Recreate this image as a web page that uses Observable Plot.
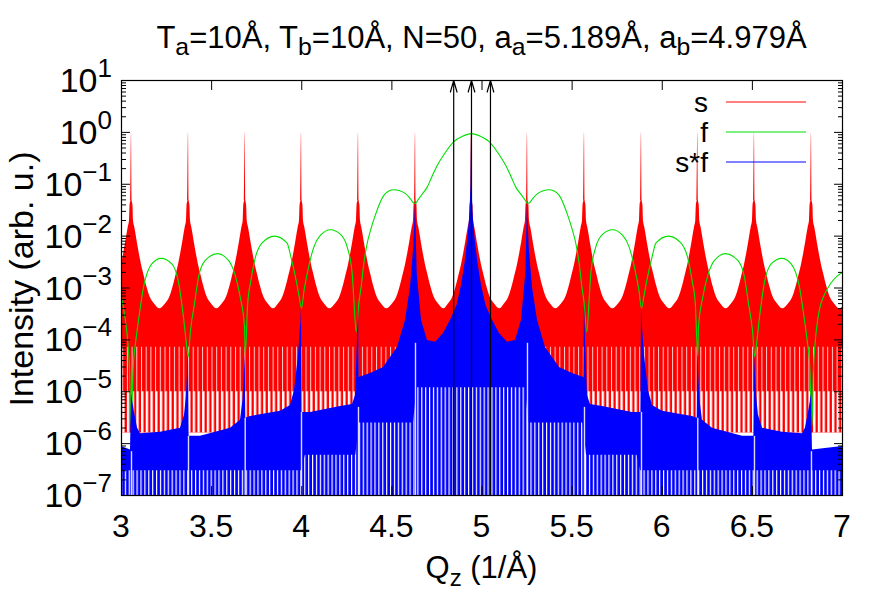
<!DOCTYPE html>
<html><head><meta charset="utf-8">
<script src="https://cdn.jsdelivr.net/npm/d3@7"></script>
<script src="https://cdn.jsdelivr.net/npm/@observablehq/plot@0.6"></script>
<style>
body{margin:0;background:#fff;}
#wrap{position:relative;width:875px;height:598px;overflow:hidden;font-family:"Liberation Sans",Arial,sans-serif;}
#title{position:absolute;left:0;width:963px;top:22px;text-align:center;font-size:31px;line-height:1;color:#000;white-space:nowrap;}
#title sub{font-size:0.8em;vertical-align:-0.3em;line-height:0;}
</style></head><body><div id="wrap"><div id="title"></div></div>
<script>
// ---------- texts ----------
const titleParts = [["T","a","=10Å, "],["T","b","=10Å, N=50, "],["a","a","=5.189Å, "],["a","b","=4.979Å"]];
const xLabelMain = "Q", xLabelSub = "z", xLabelRest = " (1/Å)";
const yLabel = "Intensity (arb. u.)";
const seriesNames = ["s", "f", "s*f"];
const seriesColors = ["#ff0000", "#00e000", "#0000ff"];

// ---------- ticks ----------
const xTicks = [3, 3.5, 4, 4.5, 5, 5.5, 6, 6.5, 7];
const yTickExponents = [-7, -6, -5, -4, -3, -2, -1, 0, 1];
const yMinorMultipliers = [2, 3, 4, 5, 6, 7, 8, 9];

// ---------- arrows (Bragg positions) ----------
const arrowQ = [4.843, 4.9417, 5.047];

// ---------- s : superlattice peak positions and envelope profile around each peak ----------
const spikeQ = [3.0555, 3.3717, 3.6863, 3.9986, 4.3148, 4.6311, 4.9417, 5.2523, 5.5686, 5.8848, 6.1971, 6.5117, 6.8279, 7.142];
const redProfileOffset = [0, 0.0033, 0.008, 0.011, 0.018, 0.024, 0.033, 0.043, 0.055, 0.067, 0.085, 0.104, 0.13, 0.157];
const redProfileValue  = [1.0, 0.049, 0.039, 0.020, 0.01475, 0.0113, 7.25e-3, 4.65e-3, 2.85e-3, 1.91e-3, 1.07e-3, 6.6e-4, 4.83e-4, 3.96e-4];
const redSolidFloor = 7.2e-5;   // lower edge of the dense red band
const redMidFloor = 1.0e-5;     // fringes thin out below this
const redFringeFloor = 1.6e-6;  // lowest visible red fringes

// ---------- f ----------
const fQ = [3.000,3.020,3.035,3.045,3.053,3.065,3.080,3.0943,3.1221,3.1681,3.2203,3.2791,3.3162,3.3440,3.3623,3.3700,3.3828,3.405,3.4272,3.4644,3.5326,3.5936,3.6308,3.6585,3.6824,3.6863,3.700,3.718,3.742,3.780,3.849,3.918,3.941,3.969,3.985,3.9986,4.0125,4.0302,4.0669,4.104,4.1595,4.215,4.2522,4.2799,4.2892,4.302,4.3165,4.330,4.3442,4.3627,4.3814,4.4091,4.4552,4.4829,4.5107,4.5432,4.5756,4.6033,4.6216,4.6311,4.645,4.670,4.696,4.720,4.7515,4.790,4.8436,4.8918,4.9417,
4.9916,5.0398,5.0934,5.1319,5.1634,5.1874,5.2134,5.2384,5.2523,5.2618,5.2801,5.3078,5.3402,5.3727,5.4005,5.4282,5.4743,5.5020,5.5207,5.5392,5.5534,5.5669,5.5814,5.5942,5.6035,5.6312,5.6684,5.7239,5.7794,5.8165,5.8532,5.8709,5.8848,5.8984,5.9144,5.9424,5.9654,6.0344,6.1034,6.1414,6.1654,6.1834,6.1971,6.2010,6.2249,6.2526,6.2898,6.3508,6.4190,6.4562,6.4784,6.5006,6.5134,6.5211,6.5394,6.5672,6.6043,6.6631,6.7153,6.7613,6.7891,6.8034,6.8184,6.8304,6.8384,6.8484,6.8634,6.880,6.896,6.933,6.970,7.000];
const fV = [6.6e-4,2.6e-4,9e-5,2.5e-5,2.2e-6,3e-5,1e-4,2.38e-4,1.04e-3,2.93e-3,3.73e-3,2.93e-3,1.30e-3,2.7e-4,7.3e-5,4.7e-5,1.52e-4,5.0e-4,1.62e-3,3.41e-3,4.59e-3,3.41e-3,1.75e-3,6.7e-4,1.77e-4,5.0e-5,5e-4,1.4e-3,3.8e-3,7.4e-3,1.0e-2,7.4e-3,3.8e-3,1.4e-3,7e-4,4.1e-4,8.9e-4,1.89e-3,6.15e-3,1.04e-2,1.33e-2,1.08e-2,6.15e-3,1.89e-3,5.8e-4,1.42e-4,5.0e-4,1.1e-3,2.93e-3,7.2e-3,1.29e-2,2.6e-2,6.1e-2,7.4e-2,7.85e-2,7.5e-2,6.6e-2,5.2e-2,4.35e-2,4.28e-2,5.0e-2,6.6e-2,8.8e-2,0.135,0.231,0.38,0.665,0.84,0.944,
0.84,0.665,0.38,0.231,0.135,8.8e-2,6.6e-2,5.0e-2,4.28e-2,4.35e-2,5.2e-2,6.6e-2,7.5e-2,7.85e-2,7.4e-2,6.1e-2,2.6e-2,1.29e-2,7.2e-3,2.93e-3,1.1e-3,5.0e-4,1.42e-4,5.8e-4,1.89e-3,6.15e-3,1.08e-2,1.33e-2,1.04e-2,6.15e-3,1.89e-3,8.9e-4,4.1e-4,7e-4,1.4e-3,3.8e-3,7.4e-3,1.0e-2,7.4e-3,3.8e-3,1.4e-3,5e-4,5.0e-5,1.77e-4,6.7e-4,1.75e-3,3.41e-3,4.59e-3,3.41e-3,1.62e-3,5.0e-4,1.52e-4,4.7e-5,7.3e-5,2.7e-4,1.30e-3,2.93e-3,3.73e-3,2.93e-3,1.04e-3,2.38e-4,1e-4,3e-5,2.2e-6,2.5e-5,9e-5,2.6e-4,5e-4,7e-4,1.21e-3,1.7e-3,2.0e-3];

// ---------- s*f : upper envelope ----------
const sfQ = [3.000,3.050,3.0555,3.0620,3.0721,3.0888,3.1054,3.2164,3.3273,3.3495,3.3606,3.3689,3.3717,3.3750,3.4383,3.6047,3.6602,3.6741,3.6824,3.6863,3.6896,3.7157,3.8821,3.9376,3.9598,3.9820,3.9958,3.9986,4.0019,4.0485,4.2149,4.2815,4.2982,4.3093,4.3148,4.3182,4.3814,4.4536,4.5312,4.5756,4.6033,4.6216,4.6311,4.6405,4.6644,4.6976,4.7420,4.7864,4.8308,4.8613,4.8863,4.9057,4.9223,4.9334,4.9390,4.9417,
4.9444,4.9500,4.9611,4.9777,4.9971,5.0221,5.0526,5.0970,5.1414,5.1858,5.2190,5.2429,5.2523,5.2618,5.2801,5.3078,5.3522,5.4298,5.5020,5.5652,5.5686,5.5741,5.5852,5.6019,5.6685,5.8349,5.8815,5.8848,5.8876,5.9014,5.9236,5.9458,6.0013,6.1677,6.1938,6.1971,6.2010,6.2093,6.2232,6.2787,6.4451,6.5084,6.5117,6.5145,6.5228,6.5339,6.5561,6.6670,6.7780,6.7946,6.8113,6.8214,6.8279,6.8334,7.000];
const sfV = [8.85e-7,7.5e-7,9.3e-6,6.5e-6,4.0e-6,2.0e-6,1.55e-6,1.65e-6,1.97e-6,3.51e-6,8.51e-6,3.22e-5,5.02e-5,1.38e-6,1.38e-6,1.97e-6,2.81e-6,6.82e-6,2.58e-5,5.02e-5,3.07e-6,3.35e-6,4.19e-6,5.46e-6,1.06e-5,5.02e-5,2.38e-4,4.05e-4,4.0e-6,4.0e-6,5.22e-6,5.71e-6,8.51e-6,9.77e-5,5e-4,1.89e-5,2.26e-5,2.95e-5,7.16e-5,2.38e-4,1.03e-3,6.07e-3,4.28e-2,1.91e-3,2.38e-4,9.77e-5,8.95e-5,1.33e-4,2.6e-4,4.6e-4,1.13e-3,2.98e-3,9.1e-3,2.86e-2,9.51e-2,0.957,
9.51e-2,2.86e-2,9.1e-3,2.98e-3,1.13e-3,4.6e-4,2.6e-4,1.33e-4,8.95e-5,9.77e-5,2.38e-4,1.91e-3,4.28e-2,6.07e-3,1.03e-3,2.38e-4,7.16e-5,2.95e-5,2.26e-5,1.89e-5,5e-4,9.77e-5,8.51e-6,5.71e-6,5.22e-6,4.0e-6,4.0e-6,4.05e-4,2.38e-4,5.02e-5,1.06e-5,5.46e-6,4.19e-6,3.35e-6,3.07e-6,5.02e-5,2.58e-5,6.82e-6,2.81e-6,1.97e-6,1.38e-6,1.38e-6,5.02e-5,3.22e-5,8.51e-6,3.51e-6,1.97e-6,1.65e-6,1.55e-6,2.0e-6,4.0e-6,6.5e-6,9.3e-6,7.5e-7,8.85e-7];
// lower edge of the dense part of s*f (below it the fringes separate)
const sfSolidQ = [3.0,4.0,4.02,4.30,4.32,4.62,4.64,4.94,5.24,5.26,5.56,5.58,5.86,5.88,7.0];
const sfSolidV = [3e-7,3e-7,6e-7,6e-7,2.5e-6,2.5e-6,1.2e-5,1.2e-5,1.2e-5,2.5e-6,2.5e-6,6e-7,6e-7,3e-7,3e-7];
// gaps of s*f exactly at the satellite peaks
const gapQ = [3.0555,3.3717,3.6863,3.9986,4.3148,4.6311,5.2523,5.5686,5.8848,6.1971,6.5117,6.8279];
const gapTop = [7e-7,1.38e-6,3.07e-6,4.0e-6,5e-6,8.6e-5,8.6e-5,5e-6,4.0e-6,3.07e-6,1.38e-6,7e-7];

// ---------- build tables ----------
const sEnv = [];
const lastOff = redProfileOffset.length - 1;
spikeQ.forEach(q0 => redProfileOffset.forEach((d, i) => {
  if (i < lastOff) sEnv.push({q: q0 - d, v: redProfileValue[i]});
  if (d > 0) sEnv.push({q: q0 + d, v: redProfileValue[i]});
}));
sEnv.sort((a, b) => a.q - b.q);
const fData = fQ.map((q, i) => ({q, v: fV[i]}));
const sfData = sfQ.map((q, i) => ({q, v: sfV[i]}));
const sfSolid = sfSolidQ.map((q, i) => ({q, v: sfSolidV[i]}));
const gaps = gapQ.map((q, i) => ({q, top: gapTop[i]}));
const yMajor = yTickExponents.map(e => Math.pow(10, e));
const yMinor = yTickExponents.slice(0, -1).flatMap(e => yMinorMultipliers.map(m => m * Math.pow(10, e)));
const yBottom = yMajor[0], yTop = yMajor[yMajor.length - 1];

const font = "Liberation Sans, Arial, sans-serif";
const plot = Plot.plot({
  width: 875, height: 598,
  marginLeft: 121, marginRight: 33, marginTop: 80, marginBottom: 103,
  x: {domain: [xTicks[0], xTicks[xTicks.length - 1]], label: null},
  y: {type: "log", domain: [yBottom, yTop], label: null},
  style: {background: "white", fontFamily: font},
  marks: [
    Plot.areaY(sEnv, {x: "q", y1: () => redFringeFloor, y2: "v", fill: seriesColors[0], curve: "monotone-x", clip: true}),
    Plot.areaY(sEnv, {x: "q", y1: () => redMidFloor, y2: () => redSolidFloor, fill: "url(#stripeThin)", clip: true}),
    Plot.areaY(sEnv, {x: "q", y1: () => redFringeFloor, y2: () => redMidFloor, fill: "url(#stripeWide)", clip: true}),
    Plot.line(fData, {x: "q", y: "v", stroke: seriesColors[1], strokeWidth: 1.1, curve: "monotone-x", clip: true}),
    Plot.areaY(sfData, {x: "q", y1: () => yBottom, y2: "v", fill: seriesColors[2], clip: true}),
    Plot.areaY(sfSolid, {x: "q", y1: () => yBottom, y2: "v", fill: "url(#stripeBlue)", clip: true}),
    Plot.ruleX(gaps, {x: "q", y1: () => yBottom, y2: "top", stroke: "white", strokeWidth: 1.4, strokeOpacity: 0.85}),
    Plot.arrow(arrowQ, {x1: d => d, x2: d => d, y1: () => yBottom, y2: () => yTop, stroke: "black", strokeWidth: 1.2, headLength: 15, headAngle: 32}),
    Plot.frame({stroke: "black", strokeWidth: 1.2}),
    Plot.axisY(yMajor, {anchor: "left", tickSize: 9, insetLeft: 9, tickFormat: () => "", label: null}),
    Plot.axisY(yMajor, {anchor: "right", tickSize: 9, insetRight: 9, tickFormat: () => "", label: null}),
    Plot.axisY(yMinor, {anchor: "left", tickSize: 5, insetLeft: 5, tickFormat: () => "", label: null}),
    Plot.axisY(yMinor, {anchor: "right", tickSize: 5, insetRight: 5, tickFormat: () => "", label: null}),
    Plot.axisX(xTicks, {anchor: "bottom", tickSize: 9, insetBottom: 9, tickFormat: () => "", label: null}),
    Plot.axisX(xTicks, {anchor: "top", tickSize: 9, insetTop: 9, tickFormat: () => "", label: null})
  ]
});

const wrap = document.getElementById("wrap");
wrap.insertBefore(plot, wrap.firstChild);
const svg = d3.select(plot);
const defs = svg.insert("defs", ":first-child");
function stripes(id, period, gap, color) {
  const p = defs.append("pattern").attr("id", id).attr("patternUnits", "userSpaceOnUse")
    .attr("width", period).attr("height", 20);
  p.append("rect").attr("x", 0).attr("y", 0).attr("width", gap).attr("height", 20).attr("fill", color);
}
stripes("stripeThin", 4.7, 1.0, "rgba(255,255,255,0.8)");
stripes("stripeWide", 4.7, 2.4, "white");
stripes("stripeBlue", 3.9, 1.2, "white");

const xs = plot.scale("x"), ys = plot.scale("y");
const g = svg.append("g").attr("font-family", font).attr("fill", "black");
// y tick labels
yTickExponents.forEach(e => {
  const t = g.append("text").attr("x", 112).attr("y", ys.apply(Math.pow(10, e)) + 12)
    .attr("text-anchor", "end").attr("font-size", 34).text("10");
  t.append("tspan").attr("dy", -15).attr("font-size", 26).text(e < 0 ? "\u2212" + (-e) : String(e));
});
// x tick labels
xTicks.forEach(v => {
  g.append("text").attr("x", xs.apply(v)).attr("y", 537).attr("text-anchor", "middle")
    .attr("font-size", 32).text(String(v));
});
// axis labels
const xl = g.append("text").attr("x", xs.apply((xTicks[0] + xTicks[xTicks.length - 1]) / 2)).attr("y", 578)
  .attr("text-anchor", "middle").attr("font-size", 31).text(xLabelMain);
xl.append("tspan").attr("dy", 8).attr("font-size", 24).text(xLabelSub);
xl.append("tspan").attr("dy", -8).text(xLabelRest);
g.append("text").attr("transform", `translate(33,279) rotate(-90)`)
  .attr("text-anchor", "middle").attr("font-size", 34).text(yLabel);
// legend
seriesNames.forEach((name, i) => {
  const yy = 102 + 30 * i;
  g.append("text").attr("x", 708).attr("y", yy + 10).attr("text-anchor", "end").attr("font-size", 28).text(name);
  g.append("line").attr("x1", 726).attr("x2", 806).attr("y1", yy).attr("y2", yy)
    .attr("stroke", seriesColors[i]).attr("stroke-width", 1);
});
// title
const tdiv = document.getElementById("title");
titleParts.forEach(([a, sub, rest]) => {
  tdiv.appendChild(document.createTextNode(a));
  const s = document.createElement("sub"); s.textContent = sub; tdiv.appendChild(s);
  tdiv.appendChild(document.createTextNode(rest));
});
</script></body></html>
